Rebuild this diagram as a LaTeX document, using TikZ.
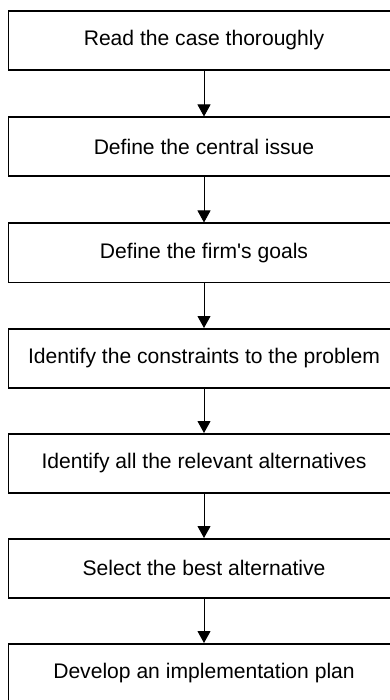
\documentclass[tikz,border=0pt]{standalone}
\usepackage{fontspec}
\setmainfont{Liberation Sans}[Ligatures=TeXOff]
\usetikzlibrary{arrows.meta}
\begin{document}
\begin{tikzpicture}[x=1pt,y=1pt,
  stepbox/.style={draw=black, line width=1.8pt, minimum width=391pt, minimum height=59pt,
    inner sep=0pt, anchor=north, font=\fontsize{21.1}{25}\selectfont},
  flow/.style={line width=1pt, -{Triangle[width=13pt,length=12pt]}}]
\clip (0,0) rectangle (390,-700);
\fill[white] (0,0) rectangle (390,-700);
\node[stepbox] (b1) at (204,-10) {Read the case thoroughly};
\node[stepbox] (b2) at (204,-116.5) {Define the central issue};
\node[stepbox] (b3) at (204,-222.5) {Define the firm's goals};
\node[stepbox] (b4) at (204,-328) {Identify the constraints to the problem};
\node[stepbox] (b5) at (204,-433) {Identify all the relevant alternatives};
\node[stepbox] (b6) at (204,-538) {Select the best alternative};
\node[stepbox] (b7) at (204,-643) {Develop an implementation plan};
\draw[flow] (b1.south) -- (b2.north);
\draw[flow] (b2.south) -- (b3.north);
\draw[flow] (b3.south) -- (b4.north);
\draw[flow] (b4.south) -- (b5.north);
\draw[flow] (b5.south) -- (b6.north);
\draw[flow] (b6.south) -- (b7.north);
\end{tikzpicture}
\end{document}
